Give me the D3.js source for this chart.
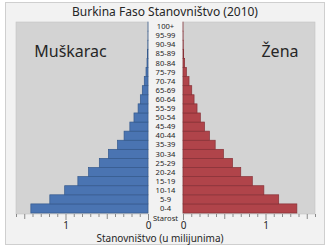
<!DOCTYPE html>
<html><head><meta charset="utf-8">
<script src="https://cdn.jsdelivr.net/npm/d3@7"></script>
<style>html,body{margin:0;padding:0;background:#fff;}svg{display:block;font-family:"Noto Sans","Open Sans",sans-serif;}</style>
</head><body>
<script>
const ages = ["0-4","5-9","10-14","15-19","20-24","25-29","30-34","35-39","40-44","45-49","50-54","55-59","60-64","65-69","70-74","75-79","80-84","85-89","90-94","95-99","100+"];
const male = [1.42,1.19,1.01,0.85,0.72,0.59,0.48,0.37,0.29,0.22,0.17,0.12,0.093,0.069,0.045,0.024,0.012,0.005,0.002,0.0005,0.0001];
const female = [1.38,1.16,0.98,0.84,0.70,0.60,0.49,0.39,0.32,0.26,0.21,0.17,0.134,0.106,0.073,0.041,0.02,0.008,0.003,0.001,0.0002];
const tickVals = d3.range(0, 17).map(i => i / 10);
const title = "Burkina Faso Stanovništvo (2010)";
const labelM = "Muškarac", labelF = "Žena", ageTitle = "Starost", xTitle = "Stanovništvo (u milijunima)";

const W = 330, H = 248;
const svg = d3.select("body").append("svg").attr("width", W).attr("height", H);
svg.append("rect").attr("x", 5.5).attr("y", 2.5).attr("width", 319).attr("height", 242)
  .attr("fill", "#f2f2f2").attr("stroke", "#cfcfcf");

const panelTop = 22, panelBot = 214;
const xL = d3.scaleLinear().domain([0, 1.6]).range([148, 16]);
const xR = d3.scaleLinear().domain([0, 1.6]).range([183, 315]);
const y = d3.scaleBand().domain(ages).range([213, 22]).padding(0);

// panels
[[16,148],[183,315]].forEach(([a,b]) => {
  svg.append("rect").attr("x", a).attr("y", panelTop).attr("width", b - a).attr("height", panelBot - panelTop)
    .attr("fill", "#d3d3d3").attr("stroke", "#c4c4c4").attr("stroke-width", 0.6);
});

svg.append("g").selectAll("rect").data(ages).join("rect")
  .attr("x", (d,i) => xL(male[i])).attr("y", d => y(d))
  .attr("width", (d,i) => xL(0) - xL(male[i])).attr("height", y.bandwidth())
  .attr("fill", "#4a74b2").attr("stroke", "#34598c").attr("stroke-width", 0.7);

svg.append("g").selectAll("rect").data(ages).join("rect")
  .attr("x", xR(0)).attr("y", d => y(d))
  .attr("width", (d,i) => xR(female[i]) - xR(0)).attr("height", y.bandwidth())
  .attr("fill", "#b0444a").attr("stroke", "#873036").attr("stroke-width", 0.7);

// age labels
svg.append("g").selectAll("text").data(ages).join("text")
  .attr("x", 165.5).attr("y", d => y(d) + y.bandwidth()/2).attr("dy", "0.35em")
  .attr("text-anchor", "middle").attr("font-size", 7.6).attr("fill", "#262626").text(d => d);
svg.append("text").attr("x", 165.5).attr("y", 218).attr("dy", "0.35em")
  .attr("text-anchor", "middle").attr("font-size", 7.6).attr("fill", "#262626").text(ageTitle);

function axis(scale) {
  const g = svg.append("g").attr("transform", `translate(0,${panelBot})`)
    .call(d3.axisBottom(scale).tickValues(tickVals).tickSize(3).tickPadding(3)
      .tickFormat(d => (Math.abs(d) < 1e-9 || Math.abs(d - 1) < 1e-9) ? d3.format("d")(d) : ""));
  g.select(".domain").remove();
  g.selectAll(".tick line").attr("stroke", "#8a8a8a")
    .attr("y2", d => (Math.abs(d - Math.round(d)) < 1e-9) ? 6 : (Math.abs(d*2 - Math.round(d*2)) < 1e-9 ? 5 : 3));
  g.selectAll(".tick text").attr("font-size", 10).attr("fill", "#262626")
    .attr("font-family", "Noto Sans, sans-serif").attr("y", 7.5);
}
axis(xL); axis(xR);

svg.append("text").attr("x", 160).attr("y", 238).attr("dy", "0.35em").attr("text-anchor", "middle")
  .attr("font-size", 10).attr("fill", "#262626").text(xTitle);
svg.append("text").attr("x", 165).attr("y", 11.5).attr("dy", "0.35em").attr("text-anchor", "middle")
  .attr("font-size", 12).attr("fill", "#262626").text(title);
svg.append("text").attr("x", 70.5).attr("y", 51).attr("dy", "0.35em").attr("text-anchor", "middle")
  .attr("font-size", 16).attr("fill", "#262626").text(labelM);
svg.append("text").attr("x", 280).attr("y", 51).attr("dy", "0.35em").attr("text-anchor", "middle")
  .attr("font-size", 16).attr("fill", "#262626").text(labelF);
</script>
</body></html>
